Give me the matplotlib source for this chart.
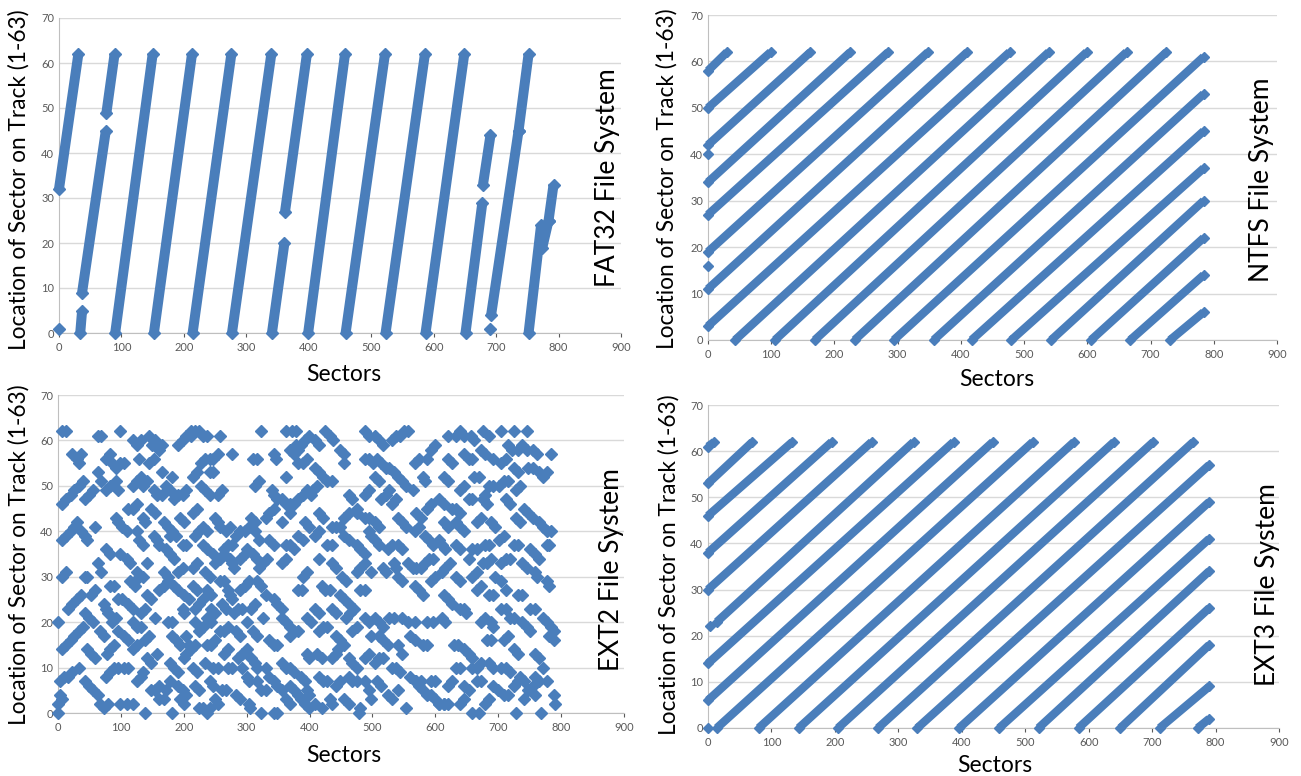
import matplotlib
matplotlib.use("Agg")
import matplotlib.pyplot as plt
import numpy as np

plt.rcParams["font.family"] = ["Lato", "DejaVu Sans"]

BLUE = "#4A7EBB"
W, H = 1301, 776

# FAT32: runs of consecutive sectors (start sector, start location) -> (end sector, end location)
fat32_x0 = [0, 34, 37, 76, 90, 152, 214, 277, 341, 362, 399, 459, 523, 587, 651, 679, 692, 736, 752, 774, 784]
fat32_y0 = [32, 0, 9, 49, 0, 0, 0, 0, 0, 27, 0, 0, 0, 0, 0, 33, 4, 45, 0, 19, 25]
fat32_x1 = [31, 37, 75, 89, 150, 213, 276, 340, 361, 397, 458, 522, 586, 649, 678, 691, 736, 752, 772, 784, 792]
fat32_y1 = [62, 5, 45, 62, 62, 62, 62, 62, 20, 62, 62, 62, 62, 62, 29, 44, 45, 62, 24, 25, 33]
fat32_dot_x = [0, 691]
fat32_dot_y = [1, 1]

# NTFS
ntfs_x0 = [0, 0, 0, 0, 0, 0, 0, 0, 43, 106, 169, 232, 294, 357, 417, 480, 543, 606, 668, 731]
ntfs_y0 = [3, 11, 19, 27, 34, 42, 50, 58, 0, 0, 0, 0, 0, 0, 0, 0, 0, 0, 0, 0]
ntfs_x1 = [477, 410, 348, 285, 225, 162, 99, 30, 539, 599, 662, 725, 784, 784, 784, 784, 784, 784, 784, 784]
ntfs_y1 = [62, 62, 62, 62, 62, 62, 62, 62, 62, 62, 62, 62, 61, 53, 45, 37, 30, 22, 14, 6]
ntfs_dot_x = [0, 0]
ntfs_dot_y = [40, 16]

# EXT3
ext3_x0 = [0, 0, 0, 0, 0, 14, 0, 0, 14, 80, 143, 205, 268, 330, 396, 459, 521, 584, 650, 712, 772]
ext3_y0 = [61, 53, 46, 38, 30, 23, 14, 6, 0, 0, 0, 0, 0, 0, 0, 0, 0, 0, 0, 0, 0]
ext3_x1 = [10, 70, 133, 195, 258, 324, 387, 449, 512, 577, 640, 702, 765, 790, 790, 790, 790, 790, 790, 790, 790]
ext3_y1 = [62, 62, 62, 62, 62, 62, 62, 62, 62, 62, 62, 62, 62, 57, 49, 41, 34, 26, 18, 9, 2]
ext3_dot_x = [0, 3]
ext3_dot_y = [0, 22]

# EXT2: scattered sectors (sector, location)
ext2_points = [
    (7, 62), (13, 62), (63, 61), (69, 61), (99, 62),
    (23, 57), (30, 56), (36, 57), (33, 55),
    (63, 53), (76, 56), (82, 57), (86, 55), (92, 54), (99, 55), (105, 55),
    (7, 46), (13, 47), (20, 48), (26, 49), (33, 50), (40, 51),
    (56, 49), (49, 48), (43, 47), (69, 51), (76, 49), (82, 50), (92, 51), (96, 49),
    (7, 38), (13, 39), (20, 40), (26, 41), (30, 42), (36, 40), (43, 39), (46, 38), (59, 41),
    (92, 43), (96, 42), (102, 41), (109, 40), (76, 36), (82, 35), (99, 35),
    (7, 30), (13, 31), (46, 30), (43, 30), (63, 33), (69, 31), (82, 28), (89, 28),
    (16, 23), (23, 24), (30, 25), (36, 26), (53, 26), (59, 27), (73, 24), (76, 23), (79, 22), (96, 25), (102, 25),
    (0, 20), (7, 14), (13, 15), (20, 16), (26, 17), (33, 18), (40, 19),
    (43, 22), (49, 21), (56, 20), (66, 18), (73, 17), (46, 14), (53, 13), (59, 12),
    (86, 20), (92, 21), (96, 18), (105, 17), (112, 16), (89, 15), (82, 14), (78, 13),
    (3, 7), (10, 8), (16, 8), (23, 9), (33, 10), (3, 4), (7, 3), (0, 2), (0, 0),
    (43, 7), (49, 6), (56, 5), (63, 4), (66, 2), (73, 1), (79, 2),
    (76, 8), (82, 9), (89, 10), (96, 10), (105, 10), (112, 10), (99, 2), (109, 2), (119, 2),
    (119, 60), (125, 59), (132, 60), (145, 61), (150, 59), (155, 60), (160, 58), (165, 59),
    (191, 59), (198, 60), (204, 61), (211, 62),
    (181, 52), (142, 51), (135, 50), (119, 50), (125, 51), (132, 52), (145, 55), (152, 56), (129, 56), (165, 53),
    (152, 49), (158, 48), (165, 48), (171, 50), (178, 49), (185, 47), (191, 48), (198, 48), (204, 49),
    (112, 45), (119, 45), (125, 46), (135, 43), (138, 42), (148, 45), (155, 44),
    (168, 42), (175, 41), (181, 40), (188, 39), (194, 43), (201, 42),
    (125, 40), (129, 38), (135, 37), (152, 39), (158, 38), (161, 37), (171, 36), (178, 35), (185, 34), (178, 39), (198, 37), (204, 37),
    (109, 34), (115, 33), (125, 31), (129, 30), (135, 30), (142, 33), (168, 31), (175, 30), (191, 31), (198, 32),
    (115, 29), (122, 28), (142, 26), (148, 25), (161, 27), (168, 28), (175, 29), (185, 28), (191, 27), (201, 26), (208, 25),
    (112, 24), (119, 23), (132, 22), (138, 23), (155, 21), (175, 20), (181, 20), (198, 23), (201, 22),
    (119, 20), (125, 19), (132, 19), (145, 17), (138, 16), (181, 17), (188, 16), (194, 15), (204, 17), (208, 15),
    (119, 14), (125, 15), (142, 12), (148, 11), (158, 13), (178, 11), (185, 10), (191, 9), (201, 12), (204, 13),
    (125, 7), (132, 8), (135, 9), (148, 5), (155, 5), (161, 6), (171, 5), (178, 7), (191, 6), (198, 5), (204, 4),
    (138, 0), (161, 3), (168, 3), (181, 0), (194, 3), (201, 2),
    (211, 61), (218, 62), (224, 62), (231, 61), (237, 61), (257, 61),
    (227, 55), (234, 56), (241, 56), (247, 56), (254, 57), (277, 57),
    (214, 52), (221, 53), (241, 53), (247, 53), (227, 50), (234, 49), (241, 48), (254, 48), (260, 49),
    (214, 44), (221, 45), (231, 41), (237, 40), (250, 43), (254, 42), (257, 41), (218, 39), (224, 40), (267, 40), (274, 41),
    (231, 37), (237, 36), (247, 35), (254, 34), (264, 36), (270, 37), (277, 37), (283, 39), (290, 40), (297, 40), (303, 41),
    (214, 32), (221, 33), (234, 31), (241, 30), (250, 33), (257, 34), (264, 35), (274, 34), (277, 33), (280, 32), (290, 34), (297, 35), (300, 36),
    (214, 28), (221, 27), (237, 27), (244, 26), (257, 29), (264, 29), (270, 27), (274, 26), (277, 25), (290, 27), (297, 28), (303, 29),
    (218, 23), (224, 24), (231, 25), (244, 23), (250, 22), (260, 24), (267, 23), (280, 22), (287, 23), (293, 23),
    (218, 20), (224, 18), (231, 19), (237, 21), (244, 20), (257, 18), (264, 18), (270, 19), (283, 18), (290, 17), (300, 20),
    (211, 14), (218, 15), (237, 15), (244, 15), (250, 16), (264, 13), (270, 14), (287, 12), (293, 13), (300, 14),
    (214, 10), (221, 9), (234, 11), (247, 10), (254, 10), (270, 10), (277, 10), (293, 10), (300, 8), (303, 7),
    (218, 6), (224, 5), (241, 7), (247, 6), (260, 5), (267, 5), (283, 4), (290, 3),
    (224, 1), (231, 1), (237, 0), (241, 1), (250, 3), (254, 2), (303, 2), (306, 1),
    (323, 62), (363, 62), (372, 62), (379, 62), (392, 60), (399, 61), (386, 59), (379, 59),
    (310, 56), (316, 56), (343, 57), (346, 56), (369, 58), (376, 57), (382, 58),
    (313, 50), (320, 51), (340, 49), (343, 48), (349, 47), (356, 47), (363, 46), (369, 46), (376, 46), (382, 47), (389, 48), (396, 49),
    (363, 52), (382, 55), (389, 55), (396, 56),
    (307, 43), (313, 42), (330, 43), (336, 44), (343, 45), (356, 42), (369, 44), (392, 42), (399, 41),
    (313, 40), (320, 38), (336, 38), (343, 37), (363, 37), (369, 37), (376, 36), (382, 39), (389, 38),
    (310, 35), (316, 34), (333, 34), (326, 33), (320, 32), (356, 33), (363, 34), (389, 30), (396, 31),
    (316, 29), (323, 28), (330, 26), (343, 25), (349, 24), (356, 23), (382, 27), (388, 27),
    (307, 23), (313, 24), (326, 21), (356, 21), (363, 20), (369, 19), (396, 21), (402, 20),
    (310, 18), (316, 17), (336, 16), (343, 15), (349, 15), (369, 17), (376, 18), (382, 18), (396, 13), (399, 12),
    (307, 12), (313, 11), (316, 10), (330, 10), (336, 8), (356, 11), (363, 10), (369, 10), (376, 9), (386, 8), (392, 7),
    (316, 7), (323, 5), (330, 5), (343, 7), (349, 6), (356, 5), (369, 6), (376, 5), (382, 4), (396, 5), (399, 4),
    (323, 0), (343, 0), (349, 0), (363, 3), (369, 2), (386, 3), (392, 2), (399, 1),
    (425, 62), (432, 61), (438, 60), (415, 59), (409, 60), (448, 58), (455, 57), (488, 62), (494, 61),
    (409, 54), (415, 53), (422, 52), (455, 55), (488, 56), (494, 56), (501, 55),
    (412, 50), (405, 49), (402, 48), (428, 51), (435, 51), (462, 48), (468, 47), (475, 45), (488, 48), (494, 49),
    (415, 44), (422, 43), (435, 41), (442, 41), (448, 41), (455, 43), (462, 44), (475, 44), (488, 43), (494, 43),
    (409, 39), (415, 40), (428, 37), (435, 37), (455, 39), (462, 38), (475, 37), (481, 36), (488, 35), (494, 40), (498, 39),
    (415, 34), (435, 33), (442, 32), (452, 30), (458, 29), (475, 31), (481, 32), (488, 33), (498, 31),
    (419, 28), (425, 27), (432, 27), (448, 26), (455, 25), (462, 24), (481, 27), (488, 27),
    (409, 23), (415, 22), (435, 23), (442, 22), (458, 21), (465, 22), (471, 23), (488, 21), (494, 20),
    (415, 18), (422, 19), (428, 19), (442, 17), (448, 16), (455, 15), (468, 18), (475, 19), (498, 17),
    (412, 13), (419, 12), (435, 12), (442, 13), (445, 14), (462, 12), (468, 11), (475, 10), (488, 12), (494, 13),
    (415, 8), (422, 7), (428, 7), (442, 6), (448, 7), (462, 8), (468, 7), (475, 7), (488, 7), (494, 5),
    (409, 2), (419, 1), (432, 3), (435, 2), (455, 3), (462, 2), (478, 0), (481, 1), (498, 3),
    (504, 61), (511, 60), (517, 59), (531, 60), (537, 61), (544, 61), (550, 62), (557, 62),
    (508, 56), (514, 55), (521, 54), (527, 54), (534, 53), (541, 52), (547, 51), (567, 55), (574, 56), (587, 56), (593, 58), (600, 59),
    (504, 52), (511, 51), (554, 50), (564, 49), (580, 52), (583, 51),
    (514, 47), (521, 48), (527, 49), (531, 46), (537, 47),
    (504, 42), (511, 41), (541, 43), (547, 42), (554, 41), (570, 44), (577, 43), (587, 45), (593, 46),
    (504, 38), (511, 37), (524, 36), (531, 37), (541, 37), (547, 36), (567, 40), (574, 41), (583, 39), (590, 38), (597, 37),
    (517, 32), (521, 31), (534, 33), (537, 32), (541, 30), (547, 29), (557, 33), (564, 32), (570, 32), (577, 32), (583, 33), (590, 34), (597, 34),
    (567, 28), (574, 27), (580, 26), (593, 29), (600, 30),
    (504, 21), (511, 20), (517, 19), (527, 21), (534, 21), (547, 21), (557, 20), (567, 20), (587, 20), (597, 20),
    (511, 17), (517, 16), (524, 15), (541, 15), (547, 13), (560, 17), (567, 16), (580, 15), (587, 15),
    (504, 11), (511, 12), (517, 12), (531, 10), (537, 10), (544, 9), (560, 8), (567, 7),
    (574, 6), (580, 5), (587, 4), (593, 4), (600, 3), (606, 2), (613, 2),
    (508, 7), (514, 6), (524, 4), (531, 3), (541, 5), (554, 1), (570, 7), (577, 7), (593, 7), (600, 7),
    (620, 61), (633, 61), (639, 62), (646, 61), (656, 61), (662, 60), (675, 62), (685, 61),
    (620, 56), (626, 55), (646, 57), (653, 56), (659, 56), (672, 58), (679, 57), (692, 56),
    (613, 52), (620, 51), (639, 49), (646, 50), (662, 52), (669, 52), (679, 48), (685, 50), (692, 50),
    (606, 47), (613, 46), (626, 45), (633, 45), (639, 44), (653, 47), (659, 47), (676, 47), (682, 46),
    (613, 42), (620, 41), (633, 42), (639, 41), (646, 40), (666, 42), (672, 43), (689, 42), (695, 41),
    (606, 38), (610, 37), (616, 36), (633, 37), (639, 36), (653, 34), (659, 36), (666, 36), (679, 37), (685, 37),
    (610, 31), (616, 32), (623, 33), (633, 30), (639, 29), (659, 30), (666, 31), (676, 33), (682, 33), (689, 34), (695, 30),
    (613, 26), (620, 25), (626, 24), (639, 23), (646, 23), (649, 22), (666, 27), (672, 28), (685, 26), (692, 26),
    (610, 21), (616, 20), (630, 15), (636, 15), (646, 14), (653, 13), (659, 12), (672, 20), (679, 21), (689, 20), (692, 19), (682, 16), (689, 16),
    (633, 10), (639, 10), (659, 10), (666, 10), (672, 11), (685, 11), (692, 10),
    (620, 6), (626, 7), (646, 6), (653, 5), (666, 7), (672, 7), (692, 6), (699, 5),
    (606, 2), (613, 2), (620, 2), (639, 2), (646, 3), (659, 0), (669, 0), (679, 2), (685, 3),
    (705, 62), (725, 62), (745, 62), (715, 59), (722, 58), (732, 58), (738, 59), (745, 58), (755, 58), (761, 57),
    (705, 55), (712, 56), (725, 54), (732, 53), (748, 54), (755, 54), (765, 53), (771, 52), (778, 53), (784, 57),
    (702, 50), (709, 51), (715, 51), (728, 49), (735, 50), (712, 47), (719, 46),
    (728, 43), (735, 42), (741, 45), (748, 44), (755, 43), (765, 42), (771, 41), (778, 40), (784, 40),
    (702, 38), (709, 39), (725, 37), (732, 37), (751, 36), (758, 35), (765, 34), (778, 37), (781, 37),
    (705, 33), (712, 34), (719, 34), (738, 33), (745, 32), (758, 31), (761, 30), (778, 29), (781, 28),
    (705, 29), (712, 27), (732, 26), (738, 26), (751, 23), (758, 23), (705, 23), (712, 23),
    (719, 21), (725, 21), (738, 20), (745, 19), (751, 18), (771, 21), (778, 20), (784, 19), (788, 18), (781, 17), (788, 16),
    (709, 16), (715, 17), (725, 14), (732, 13), (758, 13), (765, 12), (771, 10),
    (705, 10), (712, 10), (719, 9), (735, 8), (741, 7), (758, 8), (765, 7), (778, 7),
    (709, 4), (715, 4), (725, 6), (732, 7), (748, 5), (755, 6), (788, 4), (791, 2),
    (729, 0), (741, 3), (768, 0), (758, 4),
]


def px_box(x0, x900, y0, y70):
    # axes rectangle from pixel positions of the axis ends
    return [x0 / W, 1 - y0 / H, (x900 - x0) / W, (y0 - y70) / H]


def style_axes(ax):
    ax.set_xlim(0, 900)
    ax.set_ylim(0, 70)
    ax.set_xticks(range(0, 901, 100))
    ax.set_yticks(range(0, 71, 10))
    ax.grid(axis="y", color="#D9D9D9", lw=1)
    ax.set_axisbelow(True)
    ax.spines["top"].set_visible(False)
    ax.spines["right"].set_visible(False)
    ax.spines["left"].set_color("#BFBFBF")
    ax.spines["bottom"].set_color("#BFBFBF")
    ax.tick_params(labelsize=8, colors="#595959", length=3, width=0.8)
    ax.tick_params(axis="y", length=0)


def draw_runs(ax, x0, y0, x1, y1, dx, dy, lw, ms):
    for a, b, c, d in zip(x0, y0, x1, y1):
        ax.plot([a, c], [b, d], color=BLUE, lw=lw, solid_capstyle="butt", zorder=3, clip_on=False)
    ends_x = list(x0) + list(x1) + list(dx)
    ends_y = list(y0) + list(y1) + list(dy)
    ax.plot(ends_x, ends_y, ls="none", marker="D", ms=ms, color=BLUE, zorder=3, clip_on=False)


def label(x, y, s, size, rot=0):
    fig.text(x / W, 1 - y / H, s, fontsize=size, rotation=rot, ha="center", va="center", color="black")


fig = plt.figure(figsize=(W / 100, H / 100), dpi=100)

ax1 = fig.add_axes(px_box(59, 621, 333, 18))
ax2 = fig.add_axes(px_box(708, 1277, 340, 15))
ax3 = fig.add_axes(px_box(58, 624, 713, 395))
ax4 = fig.add_axes(px_box(708, 1279, 728, 405))
for ax in (ax1, ax2, ax3, ax4):
    style_axes(ax)

draw_runs(ax1, fat32_x0, fat32_y0, fat32_x1, fat32_y1, fat32_dot_x, fat32_dot_y, 7.2, 5.8)
draw_runs(ax2, ntfs_x0, ntfs_y0, ntfs_x1, ntfs_y1, ntfs_dot_x, ntfs_dot_y, 6.0, 5.6)
draw_runs(ax4, ext3_x0, ext3_y0, ext3_x1, ext3_y1, ext3_dot_x, ext3_dot_y, 6.0, 5.6)

pts = np.array(ext2_points)
ax3.plot(pts[:, 0], pts[:, 1], ls="none", marker="D", ms=5.8, color=BLUE, zorder=3, clip_on=False)

ylab = "Location of Sector on Track (1-63)"
label(19, 180, ylab, 16.3, 90)
label(667, 179, ylab, 16.3, 90)
label(19, 555, ylab, 16.3, 90)
label(669, 565, ylab, 16.3, 90)

label(344, 374, "Sectors", 16.5)
label(997, 380, "Sectors", 16.5)
label(344, 755, "Sectors", 16.5)
label(995, 765, "Sectors", 16.5)

label(608, 178, "FAT32 File System", 19, 90)
label(1262, 180, "NTFS File System", 19, 90)
label(611, 570, "EXT2 File System", 19, 90)
label(1268, 585, "EXT3 File System", 19, 90)

fig.savefig("out.png", dpi=100)
